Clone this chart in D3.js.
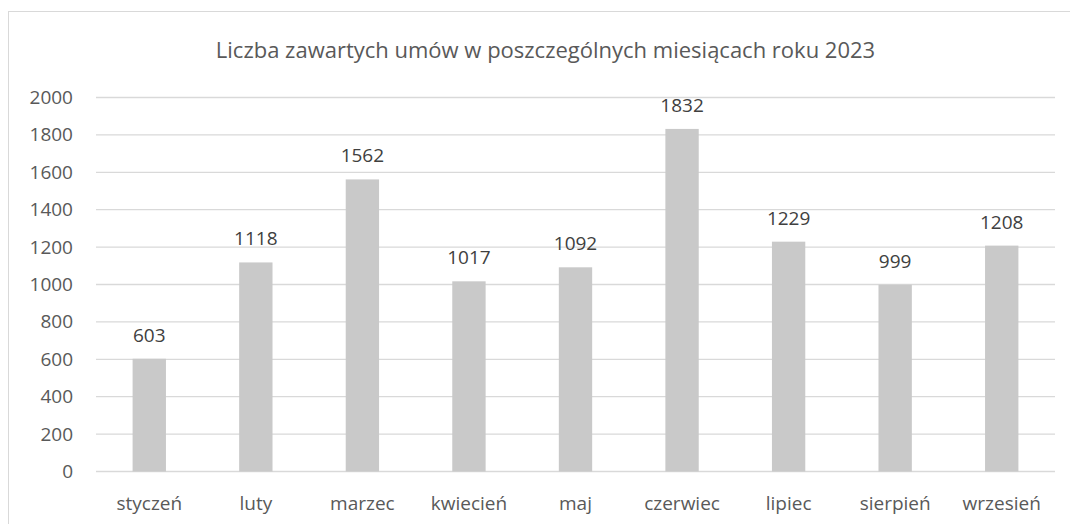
<!DOCTYPE html>
<html>
<head>
<meta charset="utf-8">
<script src="https://cdn.jsdelivr.net/npm/d3@7"></script>
<style>
  body { margin: 0; background: #fff; }
  text { font-family: "Open Sans", sans-serif; fill: #595959; }
</style>
</head>
<body>
<svg id="chart"></svg>
<script>
const months = ["styczeń", "luty", "marzec", "kwiecień", "maj", "czerwiec", "lipiec", "sierpień", "wrzesień"];
const contracts = [603, 1118, 1562, 1017, 1092, 1832, 1229, 999, 1208];
const yTicks = [0, 200, 400, 600, 800, 1000, 1200, 1400, 1600, 1800, 2000];
const title = "Liczba zawartych umów w poszczególnych miesiącach roku 2023";

const width = 1070;
const height = 524;
const margin = { top: 97.5, right: 15, bottom: 52.5, left: 96 };

const svg = d3.select("#chart").attr("width", width).attr("height", height);

// chart border
svg
  .append("rect")
  .attr("x", 8.5)
  .attr("y", 11.5)
  .attr("width", width)
  .attr("height", height)
  .attr("fill", "none")
  .attr("stroke", "#d9d9d9");

const x = d3
  .scaleBand()
  .domain(months)
  .range([margin.left, width - margin.right])
  .paddingInner(0.687)
  .paddingOuter(0.3435);

const y = d3
  .scaleLinear()
  .domain([0, 2000])
  .range([height - margin.bottom, margin.top]);

// gridlines
svg
  .append("g")
  .selectAll("line")
  .data(yTicks)
  .join("line")
  .attr("x1", margin.left)
  .attr("x2", width - margin.right)
  .attr("y1", (d) => y(d))
  .attr("y2", (d) => y(d))
  .attr("stroke", "#d9d9d9")
  .attr("stroke-width", 1.3);

// y axis
const yAxis = svg
  .append("g")
  .attr("transform", `translate(${margin.left},0)`)
  .call(d3.axisLeft(y).tickValues(yTicks).tickFormat(d3.format("d")).tickSize(0).tickPadding(23));
yAxis.select(".domain").remove();
yAxis.selectAll("text").attr("font-size", 19).attr("font-family", null).attr("fill", "#595959");

// bars
svg
  .append("g")
  .selectAll("rect")
  .data(contracts)
  .join("rect")
  .attr("x", (d, i) => x(months[i]))
  .attr("y", (d) => y(d))
  .attr("width", x.bandwidth())
  .attr("height", (d) => y(0) - y(d))
  .attr("fill", "#c9c9c9");

// value labels
svg
  .append("g")
  .selectAll("text")
  .data(contracts)
  .join("text")
  .attr("x", (d, i) => x(months[i]) + x.bandwidth() / 2)
  .attr("y", (d) => y(d) - 17)
  .attr("text-anchor", "middle")
  .attr("font-size", 19)
  .style("fill", "#404040")
  .text((d) => d);

// x axis
const xAxis = svg
  .append("g")
  .attr("transform", `translate(0,${height - margin.bottom})`)
  .call(d3.axisBottom(x).tickSize(0).tickPadding(25));
xAxis.select(".domain").remove();
xAxis.selectAll("text").attr("font-size", 19).attr("font-family", null).attr("fill", "#595959");

// title
svg
  .append("text")
  .attr("x", 545.5)
  .attr("y", 58)
  .attr("text-anchor", "middle")
  .attr("font-size", 22)
  .text(title);
</script>
</body>
</html>
